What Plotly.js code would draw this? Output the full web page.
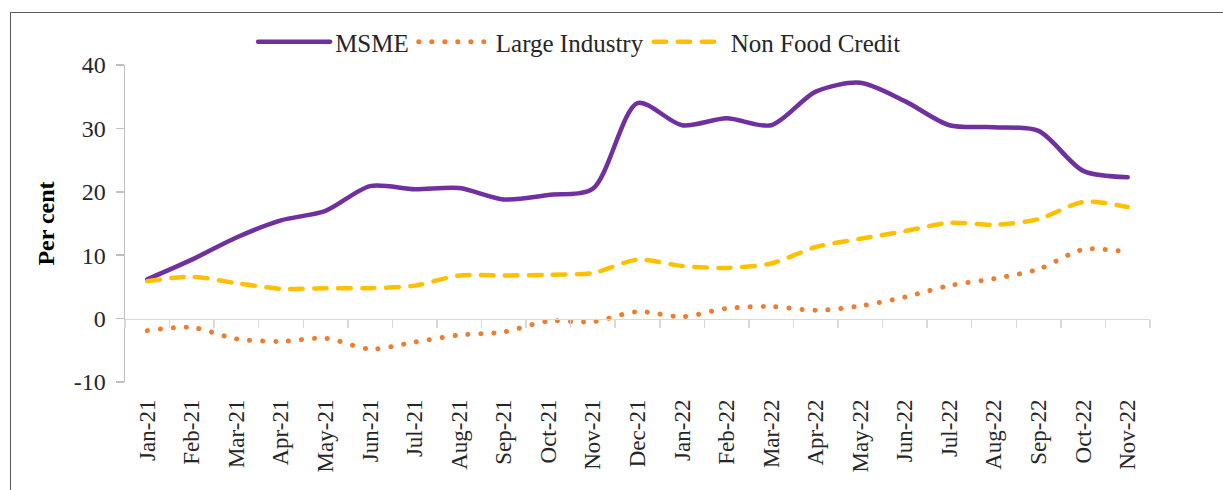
<!DOCTYPE html>
<html>
<head>
<meta charset="utf-8">
<script src="https://cdn.plot.ly/plotly-3.0.1.min.js"></script>
<style>
  html, body { margin: 0; padding: 0; background: #ffffff; overflow: hidden; }
  #frame { position: absolute; left: 10px; top: 12px; width: 1300px; height: 600px; border: 1.5px solid #595959; }
  #plot { position: absolute; left: 0; top: 0; width: 1223px; height: 490px; }
  #plot .js-line { stroke-linecap: round; }
</style>
</head>
<body>
<div id="frame"></div>
<div id="plot"></div>
<script>
const months = ["Jan-21","Feb-21","Mar-21","Apr-21","May-21","Jun-21","Jul-21","Aug-21","Sep-21","Oct-21","Nov-21","Dec-21",
                "Jan-22","Feb-22","Mar-22","Apr-22","May-22","Jun-22","Jul-22","Aug-22","Sep-22","Oct-22","Nov-22"];
const msme = [6.2, 9.3, 12.8, 15.5, 17.0, 20.9, 20.4, 20.6, 18.8, 19.5, 20.5, 34.0, 30.5, 31.6, 30.5, 35.8, 37.2, 34.3, 30.5, 30.2, 29.6, 23.3, 22.3];
const largeIndustry = [-1.9, -1.4, -3.2, -3.6, -3.1, -4.8, -3.7, -2.6, -2.1, -0.4, -0.5, 1.1, 0.3, 1.6, 1.9, 1.3, 2.0, 3.4, 5.2, 6.3, 7.8, 10.9, 10.5];
const nonFoodCredit = [5.9, 6.6, 5.6, 4.7, 4.8, 4.8, 5.2, 6.8, 6.8, 6.9, 7.2, 9.3, 8.3, 8.0, 8.7, 11.3, 12.6, 13.8, 15.1, 14.8, 15.7, 18.4, 17.6];
const yTicks = [-10, 0, 10, 20, 30, 40];

const serif = "Liberation Serif";

const traces = [
  { x: months, y: msme, name: "MSME", type: "scatter", mode: "lines",
    line: { color: "#7030A0", width: 4.5, shape: "spline", smoothing: 0.8 } },
  { x: months, y: largeIndustry, name: "Large Industry", type: "scatter", mode: "lines",
    line: { color: "#ED7D31", width: 5, shape: "spline", smoothing: 0.8, dash: "0.1px,12.9px" } },
  { x: months, y: nonFoodCredit, name: "Non Food Credit", type: "scatter", mode: "lines",
    line: { color: "#FFC000", width: 4.5, shape: "spline", smoothing: 0.8, dash: "12.5px,11.5px" } },
  // invisible trace to carry the zero-crossing category axis
  { x: months, y: msme.map(() => null), xaxis: "x2", showlegend: false, hoverinfo: "skip", type: "scatter", mode: "lines" }
];

const layout = {
  width: 1223, height: 490,
  paper_bgcolor: "rgba(0,0,0,0)", plot_bgcolor: "rgba(0,0,0,0)",
  margin: { l: 125, r: 73, t: 65, b: 108 },
  font: { family: serif, color: "#262626", size: 23 },
  showlegend: true,
  legend: {
    orientation: "h", x: 0.125, xanchor: "left", y: 1.0, yanchor: "bottom",
    font: { family: serif, size: 25, color: "#262626" },
    itemwidth: 72, bgcolor: "rgba(0,0,0,0)"
  },
  xaxis: {
    type: "category", categoryorder: "array", categoryarray: months,
    range: [-0.5, months.length - 0.5],
    showline: false, ticks: "", showgrid: false, zeroline: false,
    tickangle: -90, ticklabelstandoff: 12,
    tickfont: { family: serif, size: 23, color: "#262626" }
  },
  xaxis2: {
    type: "category", categoryorder: "array", categoryarray: months,
    range: [-0.5, months.length - 0.5],
    overlaying: "x", anchor: "free", position: 0.2, side: "bottom",
    showline: true, linecolor: "#d9d9d9", linewidth: 1.5,
    ticks: "outside", tickson: "boundaries", ticklen: 8, tickcolor: "#d9d9d9", tickwidth: 1.5,
    showticklabels: false, showgrid: false, zeroline: false
  },
  yaxis: {
    range: [-10, 40], tickvals: yTicks, ticktext: yTicks.map(String),
    showline: true, linecolor: "#bfbfbf", linewidth: 1.5,
    ticks: "outside", ticklen: 8, tickcolor: "#bfbfbf", tickwidth: 1.5,
    showgrid: false, zeroline: false,
    tickfont: { family: serif, size: 24, color: "#262626" },
    ticklabelstandoff: 5,
    title: { text: "<b>Per cent</b>", font: { family: serif, size: 24, color: "#000000" }, standoff: 12 }
  }
};

Plotly.newPlot("plot", traces, layout, { displayModeBar: false, staticPlot: true });
</script>
</body>
</html>
